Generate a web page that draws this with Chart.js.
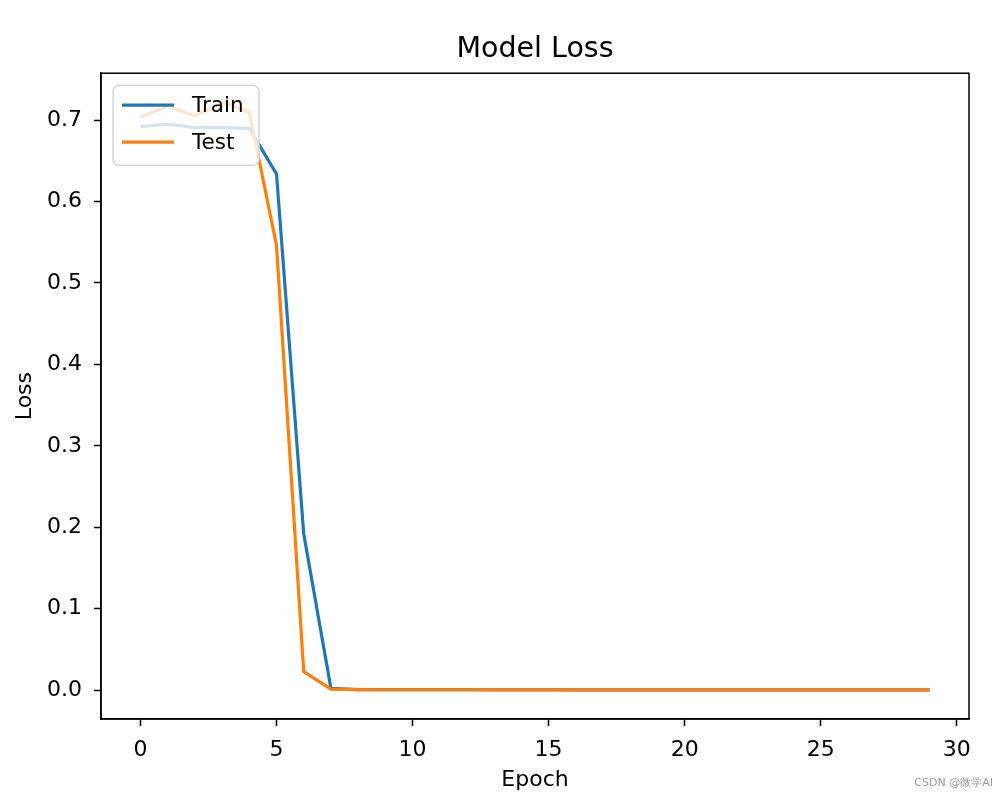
<!DOCTYPE html>
<html>
<head>
<meta charset="utf-8">
<script src="https://cdn.jsdelivr.net/npm/chart.js@4/dist/chart.umd.min.js"></script>
<style>
  html, body { margin: 0; padding: 0; background: #fff; }
  #wrap { position: relative; width: 1007px; height: 800px; }
  #mark { position: absolute; right: 14px; bottom: 10px; font: 11px "DejaVu Sans", sans-serif; color: #999; }
</style>
</head>
<body>
<div id="wrap">
  <canvas id="loss-chart" width="1007" height="800"></canvas>
  <div id="mark">CSDN @微学AI</div>
</div>
<script>
/* Model loss curves */
const epochs = [0, 1, 2, 3, 4, 5, 6, 7, 8, 9, 10, 11, 12, 13, 14, 15, 16, 17, 18, 19, 20, 21, 22, 23, 24, 25, 26, 27, 28, 29];
const trainLoss = [0.692, 0.695, 0.691, 0.691, 0.690, 0.634, 0.192, 0.002, 0.0006, 0.0005,
                   0.0004, 0.0004, 0.0003, 0.0003, 0.0003, 0.0003, 0.0002, 0.0002, 0.0002, 0.0002,
                   0.0002, 0.0002, 0.0002, 0.0002, 0.0002, 0.0002, 0.0002, 0.0002, 0.0002, 0.0002];
const testLoss  = [0.704, 0.717, 0.705, 0.722, 0.710, 0.546, 0.0225, 0.0012, 0.0004, 0.0003,
                   0.0003, 0.0003, 0.0003, 0.0002, 0.0002, 0.0002, 0.0002, 0.0002, 0.0002, 0.0002,
                   0.0002, 0.0002, 0.0002, 0.0002, 0.0002, 0.0002, 0.0002, 0.0002, 0.0002, 0.0002];
const xTicks = [0, 5, 10, 15, 20, 25, 30];
const yTicks = [0.0, 0.1, 0.2, 0.3, 0.4, 0.5, 0.6, 0.7];

const FONT = "'DejaVu Sans', sans-serif";
const BLUE = "#1f77b4";
const ORANGE = "#ff7f0e";

// black box around the plot area, like matplotlib spines
const frame = {
  id: "frame",
  afterDraw(chart) {
    const { ctx, chartArea: a } = chart;
    ctx.save();
    ctx.strokeStyle = "#000";
    ctx.lineWidth = 1.5;
    ctx.strokeRect(a.left, a.top, a.right - a.left, a.bottom - a.top);
    ctx.restore();
  }
};

// legend drawn inside the plot, upper left, semi-transparent box
const innerLegend = {
  id: "innerLegend",
  afterDatasetsDraw(chart) {
    const { ctx, chartArea: a } = chart;
    const x = a.left + 12, y = a.top + 12, w = 146, h = 80, r = 6;
    ctx.save();
    ctx.beginPath();
    ctx.roundRect(x, y, w, h, r);
    ctx.fillStyle = "rgba(255,255,255,0.8)";
    ctx.fill();
    ctx.strokeStyle = "#d6d6d6";
    ctx.lineWidth = 1.5;
    ctx.stroke();
    ctx.font = "21.5px " + FONT;
    ctx.textBaseline = "middle";
    chart.data.datasets.forEach((ds, i) => {
      const cy = y + 20 + i * 37;
      ctx.strokeStyle = ds.borderColor;
      ctx.lineWidth = 3.2;
      ctx.beginPath();
      ctx.moveTo(x + 9, cy);
      ctx.lineTo(x + 61, cy);
      ctx.stroke();
      ctx.fillStyle = "#000";
      ctx.fillText(ds.label, x + 79, cy + 1);
    });
    ctx.restore();
  }
};

const ctx = document.getElementById("loss-chart").getContext("2d");
new Chart(ctx, {
  type: "line",
  data: {
    labels: epochs,
    datasets: [
      // higher order is drawn first, so Test ends up on top like in matplotlib
      { label: "Train", order: 2, data: epochs.map((e, i) => ({ x: e, y: trainLoss[i] })), borderColor: BLUE, borderWidth: 3.2, pointRadius: 0, tension: 0, fill: false },
      { label: "Test",  order: 1, data: epochs.map((e, i) => ({ x: e, y: testLoss[i] })),  borderColor: ORANGE, borderWidth: 3.2, pointRadius: 0, tension: 0, fill: false }
    ]
  },
  options: {
    responsive: false,
    animation: false,
    events: [],
    layout: { padding: { left: 0, right: 38, top: 0, bottom: 0 } },
    plugins: {
      legend: { display: false },
      tooltip: { enabled: false },
      title: {
        display: true,
        fullSize: false,
        text: "Model Loss",
        color: "#000",
        font: { family: FONT, size: 28.5, weight: "normal" },
        padding: { top: 32, bottom: 7 }
      }
    },
    scales: {
      x: {
        type: "linear",
        min: -1.45,
        max: 30.45,
        afterBuildTicks: s => { s.ticks = xTicks.map(v => ({ value: v })); },
        afterFit: s => { s.height = 81; },
        ticks: { color: "#000", font: { family: FONT, size: 22 }, padding: 11, callback: v => String(v) },
        grid: { drawOnChartArea: false, drawTicks: true, tickLength: 7, tickWidth: 1.5, color: "#000" },
        border: { display: true, color: "#000", width: 1.5 },
        title: { display: true, text: "Epoch", color: "#000", font: { family: FONT, size: 22 }, padding: { top: 4, bottom: 7 } }
      },
      y: {
        type: "linear",
        min: -0.0356,
        max: 0.7577,
        afterBuildTicks: s => { s.ticks = yTicks.map(v => ({ value: v })); },
        afterFit: s => { s.width = 101; },
        ticks: { color: "#000", font: { family: FONT, size: 22 }, padding: 12, callback: v => v.toFixed(1) },
        grid: { drawOnChartArea: false, drawTicks: true, tickLength: 7, tickWidth: 1.5, color: "#000" },
        border: { display: true, color: "#000", width: 1.5 },
        title: { display: true, text: "Loss", color: "#000", font: { family: FONT, size: 22 }, padding: { top: 12, bottom: 0 } }
      }
    }
  },
  plugins: [frame, innerLegend]
});
</script>
</body>
</html>
